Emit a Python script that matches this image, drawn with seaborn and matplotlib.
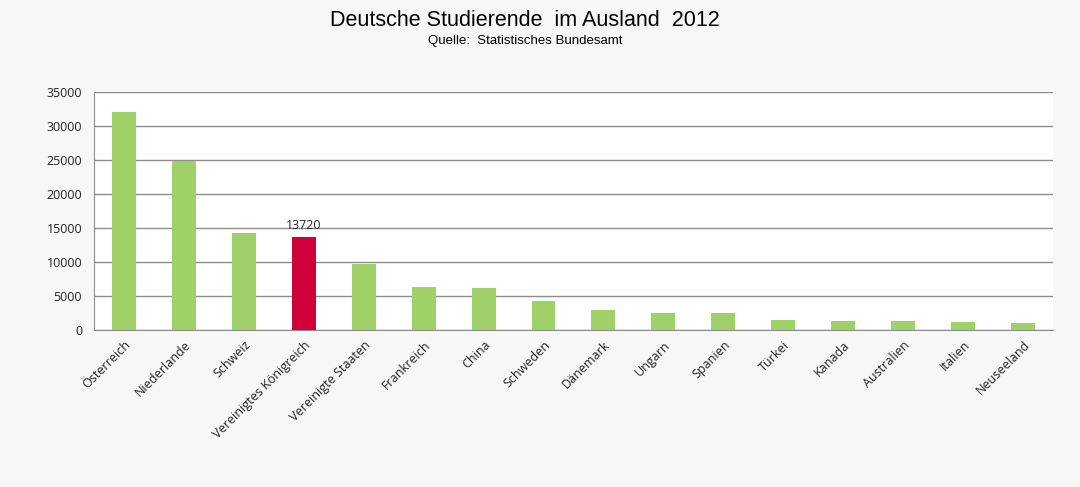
import pandas as pd
import seaborn as sns
import matplotlib.pyplot as plt

laender = ['Österreich', 'Niederlande', 'Schweiz', 'Vereinigtes Königreich',
           'Vereinigte Staaten', 'Frankreich', 'China', 'Schweden', 'Dänemark',
           'Ungarn', 'Spanien', 'Türkei', 'Kanada', 'Australien', 'Italien',
           'Neuseeland']
studierende = [32100, 24900, 14300, 13720, 9700, 6300, 6150, 4300, 2950,
               2500, 2500, 1570, 1420, 1420, 1220, 1080]
hervorgehoben = 'Vereinigtes Königreich'

df = pd.DataFrame({'Land': laender, 'Studierende': studierende})
farben = ['#d0003c' if l == hervorgehoben else '#a0d068' for l in laender]

sns.set_style('white')
plt.rcParams['font.family'] = ['Open Sans', 'DejaVu Sans']

fig = plt.figure(figsize=(10.8, 4.87), dpi=100, facecolor='#f7f7f7')
ax = fig.add_axes([0.087, 0.322, 0.888, 0.489])
ax.set_facecolor('white')

sns.barplot(x='Land', y='Studierende', data=df, palette=farben, hue='Land',
            legend=False, width=0.4, saturation=1, linewidth=0, ax=ax, zorder=3)

ax.set_ylim(0, 35000)
ax.set_yticks(range(0, 35001, 5000))
ax.set_xlim(-0.5, len(laender) - 0.5)
ax.grid(axis='y', color='#8c8c8c', linewidth=1, zorder=0)
ax.set_xlabel('')
ax.set_ylabel('')

# Ticks zwischen den Kategorien
ax.set_xticks(range(len(laender)))
ax.set_xticklabels(laender, rotation=45, ha='right', rotation_mode='anchor',
                   fontsize=9, color='#222222')
ax.set_xticks([i - 0.5 for i in range(len(laender) + 1)], minor=True)
ax.tick_params(axis='x', which='major', length=0, pad=6)
ax.tick_params(axis='x', which='minor', length=5, color='#8c8c8c', direction='out')
ax.tick_params(axis='y', length=5, color='#8c8c8c', direction='out',
               labelsize=9, labelcolor='#222222')

for s in ['top', 'right']:
    ax.spines[s].set_visible(False)
ax.spines['left'].set_color('#8c8c8c')
ax.spines['bottom'].set_color('#8c8c8c')

i = laender.index(hervorgehoben)
ax.text(i, studierende[i] + 700, '13720', ha='center', va='bottom',
        fontsize=9, color='#222222')

fig.text(0.486, 0.958, 'Deutsche Studierende  im Ausland  2012', ha='center',
         va='center', fontsize=15.5, color='black',
         family=['Liberation Sans', 'DejaVu Sans'])
fig.text(0.486, 0.916, 'Quelle:  Statistisches Bundesamt', ha='center',
         va='center', fontsize=9.5, color='black',
         family=['Liberation Sans', 'DejaVu Sans'])

fig.savefig('out.png', dpi=100, facecolor=fig.get_facecolor())
